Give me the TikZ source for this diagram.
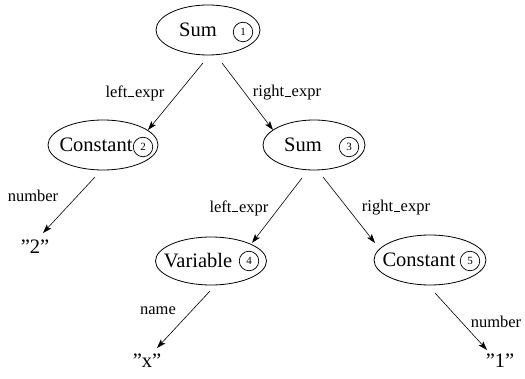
\documentclass[tikz,border=0pt]{standalone}
\usepackage{fontspec}
\setmainfont{Liberation Serif}
\usetikzlibrary{shapes.geometric,arrows.meta}
\newcommand\myus{\kern.05em\rule{0.36em}{1.4pt}\kern.05em}
\tikzset{
  oval/.style={draw, ellipse, line width=0.8pt, inner sep=0pt},
  ntext/.style={inner sep=0pt, font=\fontsize{20.5}{22}\selectfont},
  num/.style={draw, circle, line width=0.7pt, minimum size=19.5pt, inner sep=0pt, font=\fontsize{11}{12}\selectfont},
  elab/.style={inner sep=0pt, font=\fontsize{16.5}{18}\selectfont},
  arr/.style={-{Stealth[length=9pt,width=6pt,inset=2pt]}, line width=0.6pt},
}
\begin{document}
\begin{tikzpicture}[x=1pt,y=-1pt]
\useasboundingbox (0,0) rectangle (525,379);
% nodes
\node[oval, minimum width=104pt, minimum height=50pt] (e1) at (208,30) {};
\node[ntext] (t1) at (198,30) {Sum};
\node[num] (c1) at (243,32) {1};

\node[oval, minimum width=110pt, minimum height=50pt] (e2) at (103,145) {};
\node[ntext] (t2) at (96,145) {Constant};
\node[num] (c2) at (143,147) {2};

\node[oval, minimum width=102pt, minimum height=50pt] (e3) at (314,145) {};
\node[ntext] (t3) at (303,145) {Sum};
\node[num] (c3) at (349,147) {3};

\node[oval, minimum width=111pt, minimum height=48pt] (e4) at (211,261) {};
\node[ntext] (t4) at (198,261) {Variable};
\node[num] (c4) at (249,261) {4};

\node[oval, minimum width=112pt, minimum height=50pt] (e5) at (430,260) {};
\node[ntext] (t5) at (419,260) {Constant};
\node[num] (c5) at (470,261) {5};

\node[ntext] (q2) at (35,247) {''2''};
\node[ntext] (qx) at (147,361) {''x''};
\node[ntext] (q1) at (500,361) {''1''};

% edges
\draw[arr] ([shift={(-5,33)}]e1.center) -- ([shift={(45,-15)}]e2.center);
\draw[arr] ([shift={(14,33)}]e1.center) -- ([shift={(-41,-15)}]e3.center);
\draw[arr] ([shift={(-8,32)}]e2.center) -- ([shift={(8,-14)}]q2.center);
\draw[arr] ([shift={(-12,33)}]e3.center) -- ([shift={(41,-18)}]e4.center);
\draw[arr] ([shift={(9,32)}]e3.center) -- ([shift={(-55,-17)}]e5.center);
\draw[arr] ([shift={(-1,30)}]e4.center) -- ([shift={(10,-13)}]qx.center);
\draw[arr] ([shift={(5,33)}]e5.center) -- ([shift={(-13,-11)}]q1.center);

% edge labels
\node[elab] (l1) at (135,93) {left\myus expr};
\node[elab] (l2) at (287,93) {right\myus expr};
\node[elab] (l3) at (33,196) {number};
\node[elab] (l4) at (239,208) {left\myus expr};
\node[elab] (l5) at (396,208) {right\myus expr};
\node[elab] (l6) at (158,311) {name};
\node[elab] (l7) at (496,322) {number};
\end{tikzpicture}
\end{document}
